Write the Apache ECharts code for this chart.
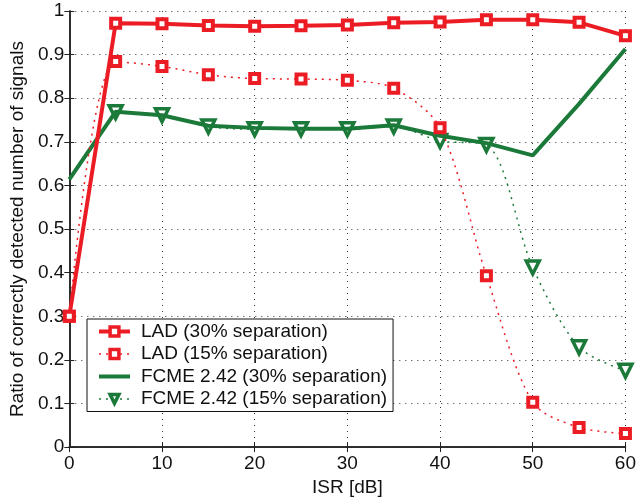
<!DOCTYPE html>
<html>
<head>
<meta charset="utf-8">
<script src="https://cdn.jsdelivr.net/npm/echarts@6/dist/echarts.min.js"></script>
<style>
  html, body { margin: 0; padding: 0; background: #fff; }
  #chart { width: 639px; height: 502px; }
</style>
</head>
<body>
<div id="chart"></div>
<script>
// ISR values (dB) and detection ratios for each detector / separation case
const isr = [0, 5, 10, 15, 20, 25, 30, 35, 40, 45, 50, 55, 60];
const lad30 = [0.30, 0.972, 0.971, 0.967, 0.965, 0.966, 0.968, 0.973, 0.975, 0.980, 0.980, 0.974, 0.943];
const lad15 = [0.30, 0.884, 0.873, 0.854, 0.845, 0.844, 0.841, 0.823, 0.732, 0.393, 0.103, 0.045, 0.031];
const fcme30 = [0.614, 0.769, 0.761, 0.737, 0.732, 0.730, 0.730, 0.738, 0.714, 0.697, 0.669, 0.787, 0.913];
const fcme15 = [null, 0.768, 0.761, 0.735, 0.729, 0.729, 0.729, 0.735, 0.702, 0.693, 0.412, 0.229, 0.175];
const seriesNames = [
  'LAD (30% separation)',
  'LAD (15% separation)',
  'FCME 2.42 (30% separation)',
  'FCME 2.42 (15% separation)'
];

const RED = '#ec1c24';
const GREEN = '#1b7a3a';
const FONT = 'Liberation Sans, Arial, Helvetica, sans-serif';

function pairs(values) {
  return isr.map((x, i) => [x, values[i]]).filter(p => p[1] !== null);
}

const chart = echarts.init(document.getElementById('chart'), null, { renderer: 'canvas' });

const frameAxis = {
  axisLine: { show: true, lineStyle: { color: '#222', width: 1.5 } },
  axisTick: { show: true, inside: true, length: 5, lineStyle: { color: '#222', width: 1 } },
  axisLabel: { show: false },
  splitLine: { show: false }
};

// hollow square marker: thick red frame, white centre
const squareStyle = { color: '#fff', borderColor: RED, borderWidth: 4, opacity: 1 };
// hollow downward triangle marker
const triangleStyle = { color: '#fff', borderColor: GREEN, borderWidth: 3.5, opacity: 1 };
const solidRed = { color: RED, width: 4 };
const dottedRed = { color: RED, width: 1.5, type: [2, 5] };
const solidGreen = { color: GREEN, width: 4 };
const dottedGreen = { color: GREEN, width: 1.5, type: [2, 5] };

chart.setOption({
  animation: false,
  backgroundColor: '#fff',
  textStyle: { fontFamily: FONT },
  grid: { left: 67, right: 11, top: 11, bottom: 49, containLabel: false },
  xAxis: [
    {
      type: 'value', min: 0, max: 60, interval: 10,
      name: 'ISR [dB]', nameLocation: 'middle', nameGap: 30,
      nameTextStyle: { fontSize: 19, color: '#111', fontFamily: FONT },
      axisLine: { show: true, lineStyle: { color: '#222', width: 1.5 } },
      axisTick: { show: true, inside: true, length: 5, lineStyle: { color: '#222' } },
      axisLabel: { fontSize: 19, color: '#111', margin: 7, fontFamily: FONT },
      splitLine: { show: true, lineStyle: { color: '#333', width: 1, type: [1, 5] } }
    },
    Object.assign({ type: 'value', min: 0, max: 60, interval: 10, position: 'top' }, frameAxis)
  ],
  yAxis: [
    {
      type: 'value', min: 0, max: 1, interval: 0.1,
      name: 'Ratio of correctly detected number of signals', nameLocation: 'middle', nameGap: 39,
      nameTextStyle: { fontSize: 19, color: '#111', fontFamily: FONT },
      axisLine: { show: true, lineStyle: { color: '#222', width: 1.5 } },
      axisTick: { show: true, inside: true, length: 5, lineStyle: { color: '#222' } },
      axisLabel: { fontSize: 19, color: '#111', margin: 5, fontFamily: FONT,
        formatter: v => String(Math.round(v * 10) / 10) },
      splitLine: { show: true, lineStyle: { color: '#333', width: 1, type: [1, 5] } }
    },
    Object.assign({ type: 'value', min: 0, max: 1, interval: 0.1, position: 'right' }, frameAxis)
  ],
  legend: {
    orient: 'vertical',
    left: 87, top: 319,
    backgroundColor: '#fff',
    borderColor: '#111', borderWidth: 1,
    padding: [3, 6, 3, 10],
    itemWidth: 31, itemHeight: 11, itemGap: 3.5,
    textStyle: { fontSize: 19, color: '#111', fontFamily: FONT, lineHeight: 19, padding: [0, 0, 0, 6] },
    data: [
      { name: seriesNames[0], lineStyle: solidRed, itemStyle: { color: '#fff', borderColor: RED, borderWidth: 3.5 } },
      { name: seriesNames[1], lineStyle: dottedRed, itemStyle: { color: '#fff', borderColor: RED, borderWidth: 3.5 } },
      { name: seriesNames[2], lineStyle: solidGreen, itemStyle: { opacity: 0 } },
      { name: seriesNames[3], lineStyle: dottedGreen, itemStyle: { color: '#fff', borderColor: GREEN, borderWidth: 3.5 } }
    ]
  },
  series: [
    {
      name: seriesNames[0], type: 'line', z: 5,
      data: pairs(lad30),
      lineStyle: solidRed,
      symbol: 'rect', symbolSize: 9,
      itemStyle: squareStyle
    },
    {
      name: seriesNames[1], type: 'line', z: 4, smooth: 0.3,
      data: pairs(lad15),
      lineStyle: dottedRed,
      symbol: 'rect', symbolSize: 9,
      itemStyle: squareStyle
    },
    {
      name: seriesNames[2], type: 'line', z: 3,
      data: pairs(fcme30),
      lineStyle: solidGreen,
      showSymbol: false, symbol: 'none',
      itemStyle: { color: GREEN }
    },
    {
      name: seriesNames[3], type: 'line', z: 2, smooth: 0.3,
      data: pairs(fcme15),
      lineStyle: dottedGreen,
      symbol: 'triangle', symbolSize: 13, symbolRotate: 180,
      itemStyle: triangleStyle
    }
  ]
});
</script>
</body>
</html>
